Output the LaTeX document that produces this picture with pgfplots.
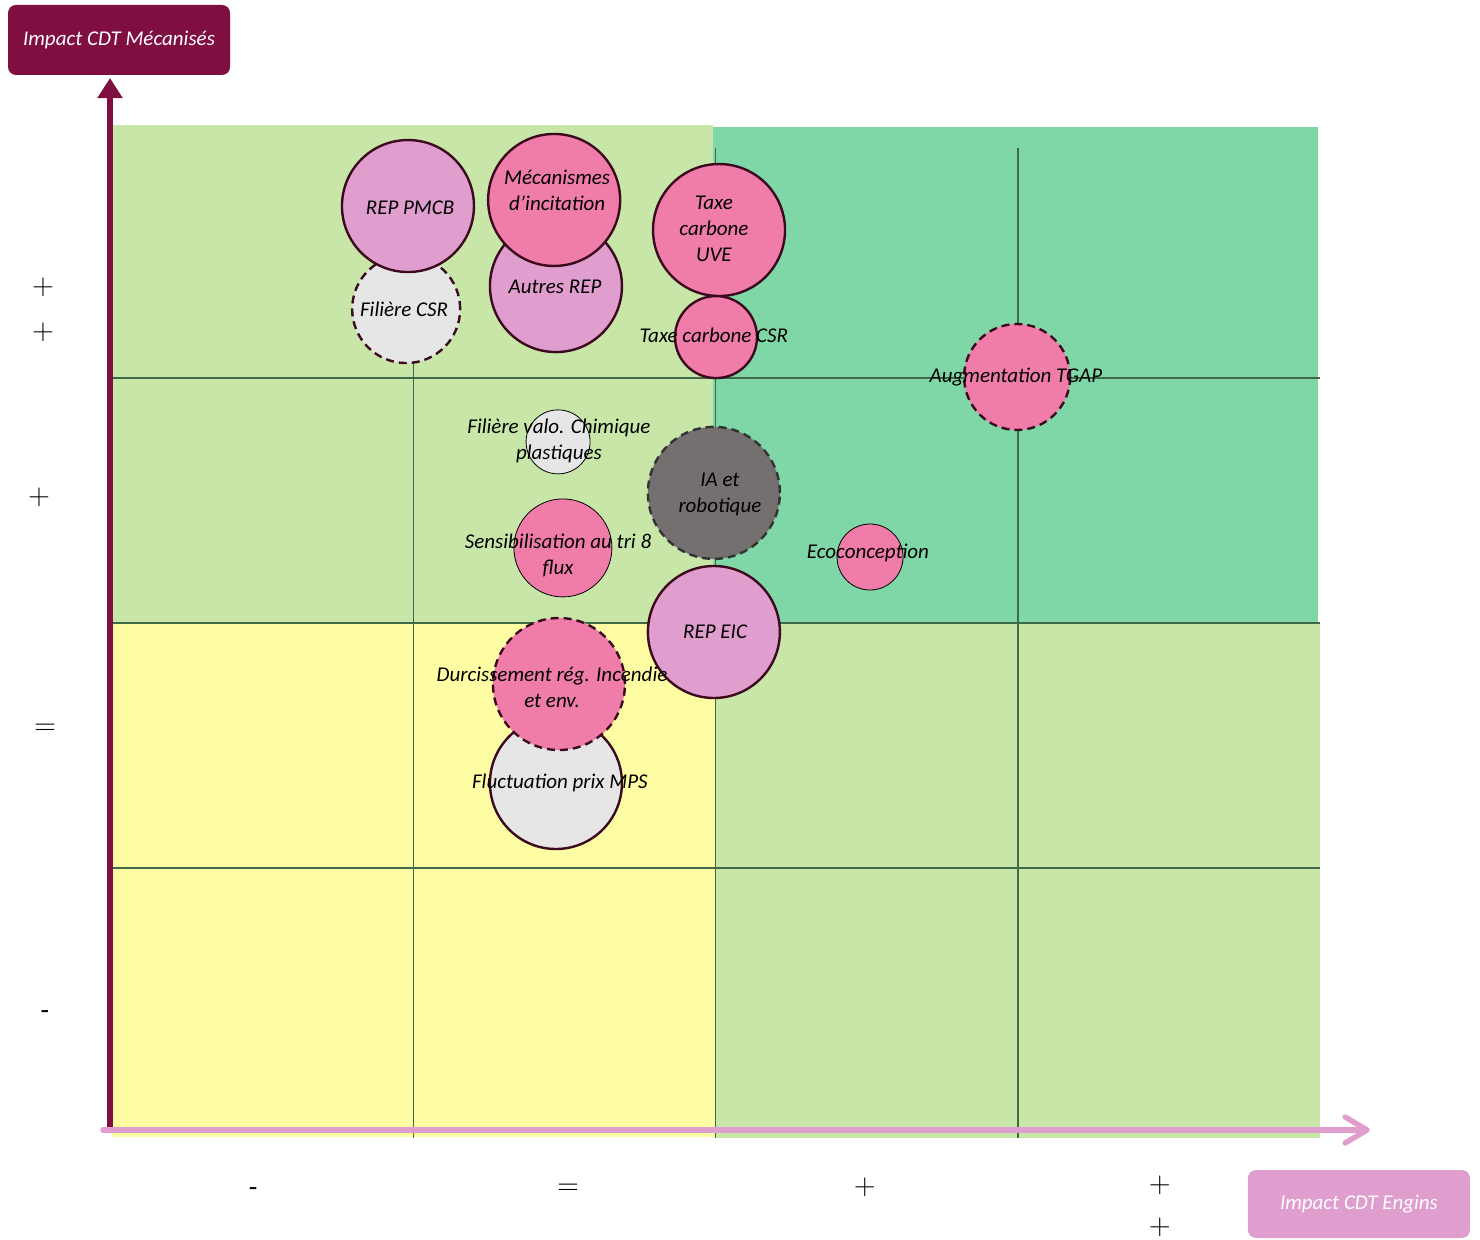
\documentclass[border=0pt]{standalone}
\usepackage{fontspec}
\setmainfont{Carlito}
\usepackage{pgfplots}
\pgfplotsset{compat=1.18}
\usetikzlibrary{arrows.meta}

\definecolor{vertclair}{HTML}{C8E6A8}
\definecolor{vertfonce}{HTML}{7FD7A7}
\definecolor{jaune}{HTML}{FFFDA3}
\definecolor{bordeaux}{HTML}{7F0F40}
\definecolor{rosaxe}{HTML}{E09ECF}
\definecolor{lilas}{HTML}{E09ECE}
\definecolor{rose}{HTML}{F07CAA}
\definecolor{grisclair}{HTML}{E6E6E6}
\definecolor{grisfonce}{HTML}{757070}
\definecolor{contour}{HTML}{3B0A1E}
\definecolor{grille}{HTML}{3F6A47}

\pgfplotsset{
  bulle/.style={only marks, mark=*, mark size=#1},
}
\tikzset{
  trait/.style={draw=contour, line width=1.2pt, solid},
  tirets/.style={draw=contour, line width=1.2pt, dash pattern=on 4pt off 2.5pt},
  sans/.style={draw=none},
  etiq/.style={align=center, inner sep=0pt, font=\itshape\fontsize{10.5}{13}\selectfont},
  signe/.style={align=center, inner sep=0pt, font=\fontsize{14}{22.5}\selectfont},
}

\begin{document}
\begin{tikzpicture}
\begin{axis}[
  scale only axis, width=740pt, height=619.5pt,
  xmin=-0.3709, xmax=4.5298, ymin=-0.4119, ymax=4.4950,
  hide axis, clip=false, set layers,
]
\path (rel axis cs:0,0) rectangle (rel axis cs:1,1);

% fonds des quadrants
\addplot[draw=none, fill=vertclair] coordinates {(0,2.028) (1.990,2.028) (1.990,4.0) (0,4.0)} -- cycle;
\addplot[draw=none, fill=vertfonce] coordinates {(1.990,2.028) (3.993,2.028) (3.993,3.992) (1.990,3.992)} -- cycle;
\addplot[draw=none, fill=jaune] coordinates {(0,-0.008) (1.997,-0.008) (1.997,2.028) (0,2.028)} -- cycle;
\addplot[draw=none, fill=vertclair] coordinates {(1.997,-0.012) (4.0,-0.012) (4.0,2.028) (1.997,2.028)} -- cycle;

% grille
\addplot[grille, line width=0.6pt] coordinates {(0,2.998) (4,2.998)};
\addplot[grille, line width=0.6pt] coordinates {(0,2.028) (4,2.028)};
\addplot[grille, line width=0.6pt] coordinates {(0,1.057) (4,1.057)};
\addplot[grille, line width=0.6pt] coordinates {(0.997,-0.01) (0.997,3.909)};
\addplot[grille, line width=0.6pt] coordinates {(1.997,-0.01) (1.997,3.909)};
\addplot[grille, line width=0.6pt] coordinates {(3.0,-0.01) (3.0,3.909)};

% axes
\draw[line width=3pt, bordeaux, -{Triangle[width=12pt,length=10pt]}]
  (axis cs:-0.0066,0.012) -- (axis cs:-0.0066,4.186);
\draw[line width=2.7pt, rosaxe, line cap=round, -{Straight Barb[length=11pt,width=13pt,round]}]
  (axis cs:-0.030,0.0198) -- (axis cs:4.165,0.0198);

% bulles
\addplot[bulle=27pt, mark options={fill=grisclair, tirets}] coordinates {(0.974,3.271)};
\addplot[bulle=33pt, mark options={fill=lilas, trait}] coordinates {(0.980,3.679)};
\addplot[bulle=33pt, mark options={fill=lilas, trait}] coordinates {(1.470,3.362)};
\addplot[bulle=33pt, mark options={fill=rose, trait}] coordinates {(1.464,3.703)};
\addplot[bulle=33pt, mark options={fill=rose, trait}] coordinates {(2.010,3.584)};
\addplot[bulle=20.5pt, mark options={fill=rose, trait}] coordinates {(2.000,3.160)};
\addplot[bulle=26.5pt, mark options={fill=rose, tirets}] coordinates {(2.997,3.002)};
\addplot[bulle=16pt, mark options={fill=grisclair, sans}] coordinates {(1.477,2.745)};
\addplot[bulle=33pt, mark options={fill=grisfonce, draw=black!80, line width=1.2pt, dash pattern=on 4pt off 2.5pt}] coordinates {(1.993,2.543)};
\addplot[bulle=24.5pt, mark options={fill=rose, sans}] coordinates {(1.493,2.325)};
\addplot[bulle=16.5pt, mark options={fill=rose, sans}] coordinates {(2.510,2.289)};
\addplot[bulle=33pt, mark options={fill=lilas, trait}] coordinates {(1.993,1.992)};
\addplot[bulle=33pt, mark options={fill=grisclair, trait}] coordinates {(1.470,1.394)};
\addplot[bulle=33pt, mark options={fill=rose, tirets}] coordinates {(1.480,1.786)};

\begin{pgfonlayer}{axis foreground}
% étiquettes
\node[etiq] at (axis cs:0.987,3.671) {REP PMCB};
\node[etiq] at (axis cs:0.967,3.271) {Filière CSR};
\node[etiq] at (axis cs:1.474,3.743) {Mécanismes\\d’incitation};
\node[etiq] at (axis cs:1.467,3.358) {Autres REP};
\node[etiq] at (axis cs:1.993,3.588) {Taxe\\carbone\\UVE};
\node[etiq] at (axis cs:1.993,3.168) {Taxe carbone CSR};
\node[etiq] at (axis cs:2.993,3.002) {Augmentation TGAP};
\node[etiq] at (axis cs:1.480,2.749) {Filière valo. Chimique\\plastiques};
\node[etiq] at (axis cs:2.013,2.535) {IA et\\robotique};
\node[etiq] at (axis cs:1.477,2.297) {Sensibilisation au tri 8\\flux};
\node[etiq] at (axis cs:2.503,2.305) {Ecoconception};
\node[etiq] at (axis cs:1.997,1.992) {REP EIC};
\node[etiq] at (axis cs:1.457,1.774) {Durcissement rég. Incendie\\et env.};
\node[etiq] at (axis cs:1.483,1.394) {Fluctuation prix MPS};

% graduations
\node[signe] at (axis cs:-0.2285,3.269) {$+$\\$+$};
\node[signe] at (axis cs:-0.2417,2.527) {$+$};
\node[signe] at (axis cs:-0.2219,1.608) {$=$};
\node[signe] at (axis cs:-0.2219,0.475) {-};
\node[signe] at (axis cs:0.467,-0.226) {-};
\node[signe] at (axis cs:1.510,-0.214) {$=$};
\node[signe] at (axis cs:2.493,-0.208) {$+$};
\node[signe, font=\fontsize{14}{21}\selectfont] at (axis cs:3.470,-0.282) {$+$\\$+$};

% titres des axes
\node[fill=bordeaux, rounded corners=4pt, minimum width=111pt, minimum height=35pt,
  text=white, font=\itshape\fontsize{10.5}{12}\selectfont] at (axis cs:0.0232,4.3366) {Impact CDT Mécanisés};
\node[fill=rosaxe, rounded corners=4pt, minimum width=111pt, minimum height=34pt,
  text=white, font=\itshape\fontsize{10.5}{12}\selectfont] at (axis cs:4.129,-0.2733) {Impact CDT Engins};
\end{pgfonlayer}
\end{axis}
\end{tikzpicture}
\end{document}
